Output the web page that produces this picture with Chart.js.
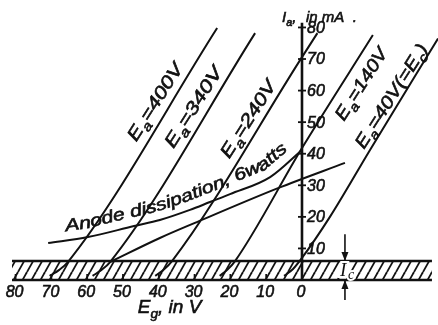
<!DOCTYPE html>
<html>
<head>
<meta charset="utf-8">
<script src="https://cdn.jsdelivr.net/npm/chart.js@4.4.1/dist/chart.umd.min.js"></script>
<style>
  html, body { margin: 0; padding: 0; background: #fff; }
  canvas { display: block; }
</style>
</head>
<body>
<canvas id="chart" width="438" height="325"></canvas>
<script>
// grid voltage Eg (V) and anode current Ia (mA)
const egTicks = [-80, -70, -60, -50, -40, -30, -20, -10, 0];
const iaTicks = [10, 20, 30, 40, 50, 60, 70, 80];

const eg400 = [-70.5, -67.8, -65.4, -23.7];
const ia400 = [1.3, 3.2, 5.7, 79.8];
const eg340 = [-58.5, -56.0, -53.6, -13.1];
const ia340 = [1.3, 3.2, 5.7, 78.2];
const eg240 = [-41.0, -38.5, -36.3, 0, 4.3];
const ia240 = [1.3, 3.4, 6.0, 70.6, 78.2];
const eg140 = [-23.0, -20.8, -18.7, 0, 19.8];
const ia140 = [1.3, 3.3, 6.0, 41.8, 77.6];
const eg40 = [-5.0, -2.5, 0, 7.8, 19.0, 38.0];
const ia40 = [1.3, 3.5, 7.0, 20.0, 41.2, 76.5];

// anode dissipation 6 W curve
const egDiss = [-70.9, -59.8, -46.9, -39.7, -31.3, -25.7, -20.1, -8.9, 0];
const iaDiss = [11.7, 13.6, 17.1, 19.0, 22.2, 24.7, 27.2, 32.6, 41.2];

// second (lower) curve
const egLow = [-53.6, -39.7, -29.9, -6.7, 12.0];
const iaLow = [5.7, 13.3, 18.1, 29.1, 37.1];

// grid current band Ic
const egBand = [-81, 36.3];
const iaBand = [6.0, 6.0];
const iaBase = [0, 0];

const ink = '#111';

const pts = (xs, ys) => xs.map((x, i) => ({ x: x, y: ys[i] }));

// hatch pattern for the band
const tile = document.createElement('canvas');
tile.width = 9; tile.height = 16;
const tctx = tile.getContext('2d');
tctx.strokeStyle = ink;
tctx.lineWidth = 1.8;
[[-9, 16, 0, 0], [0, 16, 9, 0], [9, 16, 18, 0]].forEach(s => {
  tctx.beginPath(); tctx.moveTo(s[0], s[1]); tctx.lineTo(s[2], s[3]); tctx.stroke();
});
const hatch = tctx.createPattern(tile, 'repeat');

function curve(xs, ys) {
  return {
    data: pts(xs, ys), borderColor: ink, borderWidth: 2, pointRadius: 0,
    cubicInterpolationMode: 'monotone', fill: false, order: 1
  };
}

// labels along the lines: text segments, anchor (Eg, Ia), length in px
const lineLabels = [
  { segs: [['E'], ['a', 1], ['=400V']], eg: -41.1, ia: 56.4, len: 88 },
  { segs: [['E'], ['a', 1], ['=340V']], eg: -30.4, ia: 54.8, len: 92 },
  { segs: [['E'], ['a', 1], ['=240V']], eg: -15.1, ia: 51.0, len: 88 },
  { segs: [['E'], ['a', 1], ['=140V']], eg: 16.5, ia: 62.1, len: 82 },
  { segs: [['E'], ['a', 1], ['=40V(=E'], ['c', 1], [')']], eg: 24.9, ia: 58.3, len: 120 }
];

function segWidth(ctx, segs, size, family) {
  let w = 0;
  segs.forEach(s => {
    ctx.font = 'italic ' + (s[1] ? size * 0.72 : size) + 'px ' + family;
    w += ctx.measureText(s[0]).width;
  });
  return w;
}

// heavier print look: fill plus a hairline stroke
function ink2(ctx, t, x, y) {
  ctx.fillText(t, x, y);
  ctx.strokeText(t, x, y);
}

function drawSegs(ctx, segs, x, y, size, family) {
  ctx.lineWidth = 0.6;
  segs.forEach(s => {
    const sz = s[1] ? size * 0.72 : size;
    ctx.font = 'italic ' + sz + 'px ' + family;
    ink2(ctx, s[0], x, y + (s[1] ? size * 0.28 : 0));
    x += ctx.measureText(s[0]).width;
  });
  return x;
}

function arrow(ctx, x, y1, y2) {
  const dir = y2 > y1 ? 1 : -1;
  ctx.beginPath(); ctx.moveTo(x, y1); ctx.lineTo(x, y2); ctx.stroke();
  ctx.beginPath();
  ctx.moveTo(x, y2);
  ctx.lineTo(x - 3.5, y2 - dir * 9);
  ctx.lineTo(x + 3.5, y2 - dir * 9);
  ctx.closePath(); ctx.fill();
}

const overlay = {
  id: 'overlay',
  afterDatasetsDraw(chart) {
    const ctx = chart.ctx;
    const px = v => chart.scales.x.getPixelForValue(v);
    const py = v => chart.scales.y.getPixelForValue(v);
    const fam = '"Liberation Sans", "DejaVu Sans", sans-serif';
    ctx.save();
    ctx.strokeStyle = ink;
    ctx.fillStyle = ink;

    // vertical Ia axis at Eg = 0
    const x0 = px(0);
    ctx.lineWidth = 2.6;
    ctx.beginPath(); ctx.moveTo(x0, py(81.5)); ctx.lineTo(x0, py(0)); ctx.stroke();
    ctx.lineWidth = 1.8;
    iaTicks.forEach(v => {
      ctx.beginPath(); ctx.moveTo(x0 - 4, py(v)); ctx.lineTo(x0 + 4, py(v)); ctx.stroke();
    });
    // Eg ticks under the band
    egTicks.forEach(v => {
      ctx.beginPath(); ctx.moveTo(px(v), py(0)); ctx.lineTo(px(v), py(0) - 6); ctx.stroke();
    });

    ctx.font = 'italic 16px ' + fam;
    ctx.lineWidth = 0.6;
    ctx.textAlign = 'left';
    ctx.textBaseline = 'middle';
    iaTicks.forEach(v => ink2(ctx, String(v), x0 + 5, py(v) + 1));
    ctx.textAlign = 'center';
    egTicks.forEach(v => ink2(ctx, String(Math.abs(v)), px(v) - 1, py(0) + 13));

    // axis titles
    ctx.textAlign = 'left';
    ctx.textBaseline = 'alphabetic';
    drawSegs(ctx, [['I'], ['a', 1], [',']], x0 - 20, py(0) - 258, 15, fam);
    drawSegs(ctx, [['in mA'], ['  .']], x0 + 4, py(0) - 258, 15, fam);
    const tw = segWidth(ctx, [['E'], ['g', 1], [', in V']], 19, fam);
    drawSegs(ctx, [['E'], ['g', 1], [', in V']], px(-37) - tw / 2, py(0) + 33, 19, fam);

    // Ic marker
    const xc = px(12);
    ctx.lineWidth = 1.6;
    arrow(ctx, xc, py(14.5), py(6));
    arrow(ctx, xc, py(-6.3), py(0));
    ctx.font = 'italic 19px "Liberation Serif", serif';
    ctx.lineWidth = 4;
    ctx.strokeStyle = '#fff';
    ctx.strokeText('I', xc - 5, py(0) - 4);
    ctx.fillText('I', xc - 5, py(0) - 4);
    ctx.font = 'italic 14px "Liberation Serif", serif';
    ctx.strokeText('c', xc + 3, py(0) - 1);
    ctx.fillText('c', xc + 3, py(0) - 1);
    ctx.strokeStyle = ink;

    // Ea labels along the lines
    const ang = -57.5 * Math.PI / 180;
    lineLabels.forEach(l => {
      const w = segWidth(ctx, l.segs, 18, fam);
      ctx.save();
      ctx.translate(px(l.eg), py(l.ia));
      ctx.rotate(ang);
      ctx.scale(l.len / w, 1);
      drawSegs(ctx, l.segs, -w / 2, 6, 18, fam);
      ctx.restore();
    });

    // "Anode dissipation, 6watts" along the curve
    const P = egDiss.map((e, i) => [px(e), py(iaDiss[i])]);
    const Q = P.map((p, i) => {
      const a = P[Math.max(i - 1, 0)], b = P[Math.min(i + 1, P.length - 1)];
      const dx = b[0] - a[0], dy = b[1] - a[1], n = Math.hypot(dx, dy);
      return [p[0] + 9 * dy / n, p[1] - 9 * dx / n];
    });
    const cum = [0];
    for (let i = 1; i < Q.length; i++) cum.push(cum[i - 1] + Math.hypot(Q[i][0] - Q[i - 1][0], Q[i][1] - Q[i - 1][1]));
    const at = s => {
      let i = 1;
      while (i < Q.length - 1 && cum[i] < s) i++;
      const t = (s - cum[i - 1]) / (cum[i] - cum[i - 1]);
      return {
        x: Q[i - 1][0] + t * (Q[i][0] - Q[i - 1][0]),
        y: Q[i - 1][1] + t * (Q[i][1] - Q[i - 1][1]),
        a: Math.atan2(Q[i][1] - Q[i - 1][1], Q[i][0] - Q[i - 1][0])
      };
    };
    const sAtX = X => {
      for (let i = 1; i < Q.length; i++) {
        if (Q[i][0] >= X) {
          const t = (X - Q[i - 1][0]) / (Q[i][0] - Q[i - 1][0]);
          return cum[i - 1] + t * (cum[i] - cum[i - 1]);
        }
      }
      return cum[cum.length - 1];
    };
    const txt = 'Anode dissipation, 6watts';
    ctx.font = 'italic 17px ' + fam;
    ctx.textAlign = 'center';
    ctx.lineWidth = 0.6;
    const total = ctx.measureText(txt).width;
    const s0 = sAtX(66), s1 = sAtX(288);
    const k = (s1 - s0) / total;
    let run = 0;
    for (const ch of txt) {
      const w = ctx.measureText(ch).width;
      const p = at(s0 + (run + w / 2) * k);
      ctx.save();
      ctx.translate(p.x, p.y);
      ctx.rotate(p.a);
      ctx.scale(k, 1);
      ink2(ctx, ch, 0, 0);
      ctx.restore();
      run += w;
    }
    ctx.restore();
  }
};

new Chart(document.getElementById('chart'), {
  type: 'line',
  data: {
    datasets: [
      curve(eg400, ia400),
      curve(eg340, ia340),
      curve(eg240, ia240),
      curve(eg140, ia140),
      curve(eg40, ia40),
      curve(egDiss, iaDiss),
      curve(egLow, iaLow),
      {
        data: pts(egBand, iaBand), borderColor: ink, borderWidth: 2.5, pointRadius: 0,
        backgroundColor: hatch, fill: 'origin', order: 5
      },
      {
        data: pts(egBand, iaBase), borderColor: ink, borderWidth: 2.5, pointRadius: 0,
        fill: false, order: 4
      }
    ]
  },
  options: {
    responsive: false,
    animation: false,
    layout: { padding: { left: 10, right: 0, top: 20, bottom: 25 } },
    plugins: { legend: { display: false }, tooltip: { enabled: false } },
    scales: {
      x: { type: 'linear', min: -81.56, max: 37.99, display: false },
      y: { type: 'linear', min: -6.335, max: 82.36, display: false }
    }
  },
  plugins: [overlay]
});
</script>
</body>
</html>
